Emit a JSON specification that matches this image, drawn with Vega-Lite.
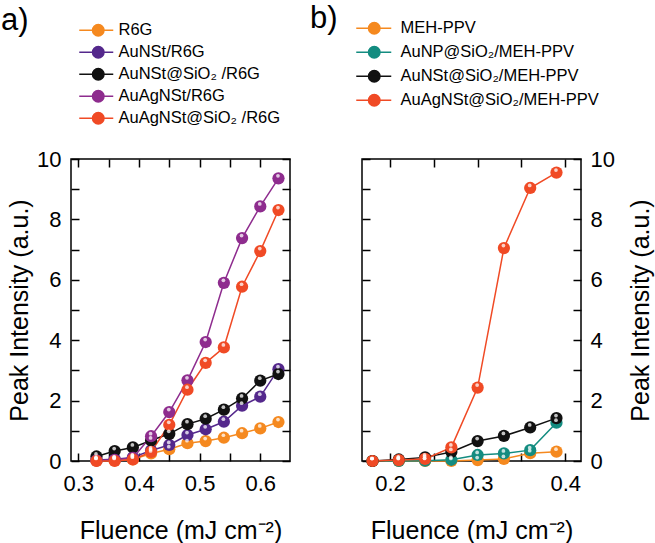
{
  "$schema": "https://vega.github.io/schema/vega-lite/v6.json",
  "padding": {"left": 0, "top": 2, "right": 0, "bottom": 0},
  "background": "white",
  "config": {
    "font": "Liberation Sans",
    "view": {"stroke": "black", "strokeWidth": 1.5},
    "axis": {
      "labelFont": "Liberation Sans",
      "titleFont": "Liberation Sans",
      "labelFontSize": 22,
      "titleFontSize": 25,
      "titleFontWeight": "normal",
      "labelColor": "black",
      "titleColor": "black",
      "tickColor": "black",
      "tickWidth": 1.5,
      "tickSize": -8,
      "domain": false,
      "grid": false,
      "labelPadding": 14
    },
    "legend": {
      "labelFont": "Liberation Sans",
      "labelFontSize": 16.5,
      "labelColor": "black",
      "labelLimit": 400,
      "symbolSize": 100,
      "symbolStrokeWidth": 1.5,
      "padding": 0
    },
    "title": {"font": "Liberation Sans", "fontSize": 31, "fontWeight": "normal", "color": "black"}
  },
  "datasets": {
    "a": [
      {"s": "R6G", "f": 0.33, "v": 0.01}, {"s": "R6G", "f": 0.36, "v": 0.02}, {"s": "R6G", "f": 0.39, "v": 0.05}, {"s": "R6G", "f": 0.42, "v": 0.25}, {"s": "R6G", "f": 0.45, "v": 0.39}, {"s": "R6G", "f": 0.48, "v": 0.59}, {"s": "R6G", "f": 0.51, "v": 0.66}, {"s": "R6G", "f": 0.54, "v": 0.77}, {"s": "R6G", "f": 0.57, "v": 0.92}, {"s": "R6G", "f": 0.60, "v": 1.08}, {"s": "R6G", "f": 0.63, "v": 1.29},
      {"s": "AuNSt/R6G", "f": 0.33, "v": 0.03}, {"s": "AuNSt/R6G", "f": 0.36, "v": 0.06}, {"s": "AuNSt/R6G", "f": 0.39, "v": 0.12}, {"s": "AuNSt/R6G", "f": 0.42, "v": 0.35}, {"s": "AuNSt/R6G", "f": 0.45, "v": 0.53}, {"s": "AuNSt/R6G", "f": 0.48, "v": 0.86}, {"s": "AuNSt/R6G", "f": 0.51, "v": 1.05}, {"s": "AuNSt/R6G", "f": 0.54, "v": 1.3}, {"s": "AuNSt/R6G", "f": 0.57, "v": 1.83}, {"s": "AuNSt/R6G", "f": 0.60, "v": 2.13}, {"s": "AuNSt/R6G", "f": 0.63, "v": 3.04},
      {"s": "AuNSt@SiO₂ /R6G", "f": 0.33, "v": 0.15}, {"s": "AuNSt@SiO₂ /R6G", "f": 0.36, "v": 0.33}, {"s": "AuNSt@SiO₂ /R6G", "f": 0.39, "v": 0.45}, {"s": "AuNSt@SiO₂ /R6G", "f": 0.42, "v": 0.68}, {"s": "AuNSt@SiO₂ /R6G", "f": 0.45, "v": 0.9}, {"s": "AuNSt@SiO₂ /R6G", "f": 0.48, "v": 1.22}, {"s": "AuNSt@SiO₂ /R6G", "f": 0.51, "v": 1.4}, {"s": "AuNSt@SiO₂ /R6G", "f": 0.54, "v": 1.7}, {"s": "AuNSt@SiO₂ /R6G", "f": 0.57, "v": 2.07}, {"s": "AuNSt@SiO₂ /R6G", "f": 0.60, "v": 2.66}, {"s": "AuNSt@SiO₂ /R6G", "f": 0.63, "v": 2.88},
      {"s": "AuAgNSt/R6G", "f": 0.33, "v": 0.02}, {"s": "AuAgNSt/R6G", "f": 0.36, "v": 0.04}, {"s": "AuAgNSt/R6G", "f": 0.39, "v": 0.1}, {"s": "AuAgNSt/R6G", "f": 0.42, "v": 0.82}, {"s": "AuAgNSt/R6G", "f": 0.45, "v": 1.62}, {"s": "AuAgNSt/R6G", "f": 0.48, "v": 2.67}, {"s": "AuAgNSt/R6G", "f": 0.51, "v": 3.94}, {"s": "AuAgNSt/R6G", "f": 0.54, "v": 5.9}, {"s": "AuAgNSt/R6G", "f": 0.57, "v": 7.38}, {"s": "AuAgNSt/R6G", "f": 0.60, "v": 8.43}, {"s": "AuAgNSt/R6G", "f": 0.63, "v": 9.36},
      {"s": "AuAgNSt@SiO₂ /R6G", "f": 0.33, "v": 0.0}, {"s": "AuAgNSt@SiO₂ /R6G", "f": 0.36, "v": 0.0}, {"s": "AuAgNSt@SiO₂ /R6G", "f": 0.39, "v": 0.05}, {"s": "AuAgNSt@SiO₂ /R6G", "f": 0.42, "v": 0.3}, {"s": "AuAgNSt@SiO₂ /R6G", "f": 0.45, "v": 1.2}, {"s": "AuAgNSt@SiO₂ /R6G", "f": 0.48, "v": 2.36}, {"s": "AuAgNSt@SiO₂ /R6G", "f": 0.51, "v": 3.25}, {"s": "AuAgNSt@SiO₂ /R6G", "f": 0.54, "v": 3.76}, {"s": "AuAgNSt@SiO₂ /R6G", "f": 0.57, "v": 5.77}, {"s": "AuAgNSt@SiO₂ /R6G", "f": 0.60, "v": 6.95}, {"s": "AuAgNSt@SiO₂ /R6G", "f": 0.63, "v": 8.31}
    ],
    "b": [
      {"s": "MEH-PPV", "f": 0.18, "v": 0.0}, {"s": "MEH-PPV", "f": 0.21, "v": 0.0}, {"s": "MEH-PPV", "f": 0.24, "v": 0.0}, {"s": "MEH-PPV", "f": 0.27, "v": 0.0}, {"s": "MEH-PPV", "f": 0.30, "v": 0.03}, {"s": "MEH-PPV", "f": 0.33, "v": 0.07}, {"s": "MEH-PPV", "f": 0.36, "v": 0.26}, {"s": "MEH-PPV", "f": 0.39, "v": 0.31},
      {"s": "AuNP@SiO₂/MEH-PPV", "f": 0.18, "v": 0.0}, {"s": "AuNP@SiO₂/MEH-PPV", "f": 0.21, "v": 0.0}, {"s": "AuNP@SiO₂/MEH-PPV", "f": 0.24, "v": 0.01}, {"s": "AuNP@SiO₂/MEH-PPV", "f": 0.27, "v": 0.04}, {"s": "AuNP@SiO₂/MEH-PPV", "f": 0.30, "v": 0.2}, {"s": "AuNP@SiO₂/MEH-PPV", "f": 0.33, "v": 0.25}, {"s": "AuNP@SiO₂/MEH-PPV", "f": 0.36, "v": 0.36}, {"s": "AuNP@SiO₂/MEH-PPV", "f": 0.39, "v": 1.27},
      {"s": "AuNSt@SiO₂/MEH-PPV", "f": 0.18, "v": 0.0}, {"s": "AuNSt@SiO₂/MEH-PPV", "f": 0.21, "v": 0.05}, {"s": "AuNSt@SiO₂/MEH-PPV", "f": 0.24, "v": 0.12}, {"s": "AuNSt@SiO₂/MEH-PPV", "f": 0.27, "v": 0.3}, {"s": "AuNSt@SiO₂/MEH-PPV", "f": 0.30, "v": 0.66}, {"s": "AuNSt@SiO₂/MEH-PPV", "f": 0.33, "v": 0.83}, {"s": "AuNSt@SiO₂/MEH-PPV", "f": 0.36, "v": 1.11}, {"s": "AuNSt@SiO₂/MEH-PPV", "f": 0.39, "v": 1.42},
      {"s": "AuAgNSt@SiO₂/MEH-PPV", "f": 0.18, "v": 0.0}, {"s": "AuAgNSt@SiO₂/MEH-PPV", "f": 0.21, "v": 0.03}, {"s": "AuAgNSt@SiO₂/MEH-PPV", "f": 0.24, "v": 0.07}, {"s": "AuAgNSt@SiO₂/MEH-PPV", "f": 0.27, "v": 0.45}, {"s": "AuAgNSt@SiO₂/MEH-PPV", "f": 0.30, "v": 2.43}, {"s": "AuAgNSt@SiO₂/MEH-PPV", "f": 0.33, "v": 7.05}, {"s": "AuAgNSt@SiO₂/MEH-PPV", "f": 0.36, "v": 9.04}, {"s": "AuAgNSt@SiO₂/MEH-PPV", "f": 0.39, "v": 9.55}
    ]
  },
  "hconcat": [
    {
      "width": 219,
      "height": 302,
      "data": {"name": "a"},
      "title": {"text": "a)", "anchor": "start", "frame": "group", "dx": -70, "offset": -15},
      "layer": [
        {
          "mark": {"type": "line", "strokeWidth": 1.5},
          "encoding": {
            "x": {"field": "f", "type": "quantitative", "scale": {"domain": [0.288, 0.649], "nice": false, "zero": false},
              "axis": {"orient": "bottom", "values": [0.3, 0.35, 0.4, 0.45, 0.5, 0.55, 0.6], "labelExpr": "abs(datum.value*10 - round(datum.value*10)) < 0.001 ? format(datum.value, '.1f') : ''", "title": "Fluence (mJ cm⁻²)", "labelPadding": 20, "titlePadding": 24}},
            "y": {"field": "v", "type": "quantitative", "scale": {"domain": [0, 10], "nice": false},
              "axis": {"orient": "left", "values": [0, 1, 2, 3, 4, 5, 6, 7, 8, 9, 10], "labelExpr": "datum.value % 2 == 0 ? datum.label : ''", "title": "Peak Intensity (a.u.)", "labelPadding": 18, "titlePadding": 4}},
            "color": {"field": "s", "type": "nominal",
              "scale": {"domain": ["R6G", "AuNSt/R6G", "AuNSt@SiO₂ /R6G", "AuAgNSt/R6G", "AuAgNSt@SiO₂ /R6G"], "range": ["#F5891F", "#54288C", "#111111", "#8E2C8E", "#F04A25"]},
              "legend": {"orient": "none", "legendX": 19, "legendY": -137, "title": null, "rowPadding": 4, "labelOffset": 12,
                "symbolType": "M -3.8 0 L 3.0 0 M -1.15 0 A 1.15 1.15 0 1 1 1.15 0 A 1.15 1.15 0 1 1 -1.15 0 Z"}}
          }
        },
        {
          "mark": {"type": "point", "filled": true, "size": 150, "opacity": 1},
          "encoding": {
            "x": {"field": "f", "type": "quantitative", "axis": null},
            "y": {"field": "v", "type": "quantitative", "axis": null},
            "color": {"field": "s", "type": "nominal"}
          }
        },
        {
          "mark": {"type": "point", "filled": true, "size": 14, "color": "white", "opacity": 0.75, "yOffset": -2.5, "xOffset": -0.5},
          "encoding": {
            "x": {"field": "f", "type": "quantitative", "axis": {"orient": "top", "values": [0.3, 0.35, 0.4, 0.45, 0.5, 0.55, 0.6], "labels": false, "title": null}},
            "y": {"field": "v", "type": "quantitative", "axis": {"orient": "right", "values": [0, 1, 2, 3, 4, 5, 6, 7, 8, 9, 10], "labels": false, "title": null}}
          }
        }
      ],
      "resolve": {"axis": {"x": "independent", "y": "independent"}}
    },
    {
      "width": 219,
      "height": 302,
      "data": {"name": "b"},
      "title": {"text": "b)", "anchor": "start", "frame": "group", "dx": -52, "offset": -15},
      "layer": [
        {
          "mark": {"type": "line", "strokeWidth": 1.5},
          "encoding": {
            "x": {"field": "f", "type": "quantitative", "scale": {"domain": [0.168, 0.418], "nice": false, "zero": false},
              "axis": {"orient": "bottom", "values": [0.2, 0.25, 0.3, 0.35, 0.4], "labelExpr": "abs(datum.value*10 - round(datum.value*10)) < 0.001 ? format(datum.value, '.1f') : ''", "title": "Fluence (mJ cm⁻²)", "labelPadding": 20, "titlePadding": 24}},
            "y": {"field": "v", "type": "quantitative", "scale": {"domain": [0, 10], "nice": false},
              "axis": {"orient": "right", "values": [0, 1, 2, 3, 4, 5, 6, 7, 8, 9, 10], "labelExpr": "datum.value % 2 == 0 ? datum.label : ''", "title": "Peak Intensity (a.u.)", "titleAngle": 270, "titleBaseline": "top", "labelPadding": 17, "titlePadding": 14}},
            "color": {"field": "s", "type": "nominal",
              "scale": {"domain": ["MEH-PPV", "AuNP@SiO₂/MEH-PPV", "AuNSt@SiO₂/MEH-PPV", "AuAgNSt@SiO₂/MEH-PPV"], "range": ["#F5891F", "#138C80", "#111111", "#F04A25"]},
              "legend": {"orient": "none", "legendX": 4, "legendY": -139, "title": null, "rowPadding": 6, "labelOffset": 18,
                "symbolType": "M -3.6 0 L 3.4 0 M -1.15 0 A 1.15 1.15 0 1 1 1.15 0 A 1.15 1.15 0 1 1 -1.15 0 Z"}}
          }
        },
        {
          "mark": {"type": "point", "filled": true, "size": 150, "opacity": 1},
          "encoding": {
            "x": {"field": "f", "type": "quantitative", "axis": null},
            "y": {"field": "v", "type": "quantitative", "axis": null},
            "color": {"field": "s", "type": "nominal"}
          }
        },
        {
          "mark": {"type": "point", "filled": true, "size": 14, "color": "white", "opacity": 0.75, "yOffset": -2.5, "xOffset": -0.5},
          "encoding": {
            "x": {"field": "f", "type": "quantitative", "axis": {"orient": "top", "values": [0.2, 0.25, 0.3, 0.35, 0.4], "labels": false, "title": null}},
            "y": {"field": "v", "type": "quantitative", "axis": {"orient": "left", "values": [0, 1, 2, 3, 4, 5, 6, 7, 8, 9, 10], "labels": false, "title": null}}
          }
        }
      ],
      "resolve": {"axis": {"x": "independent", "y": "independent"}}
    }
  ],
  "spacing": 72,
  "bounds": "flush",
  "resolve": {"scale": {"color": "independent"}}
}
